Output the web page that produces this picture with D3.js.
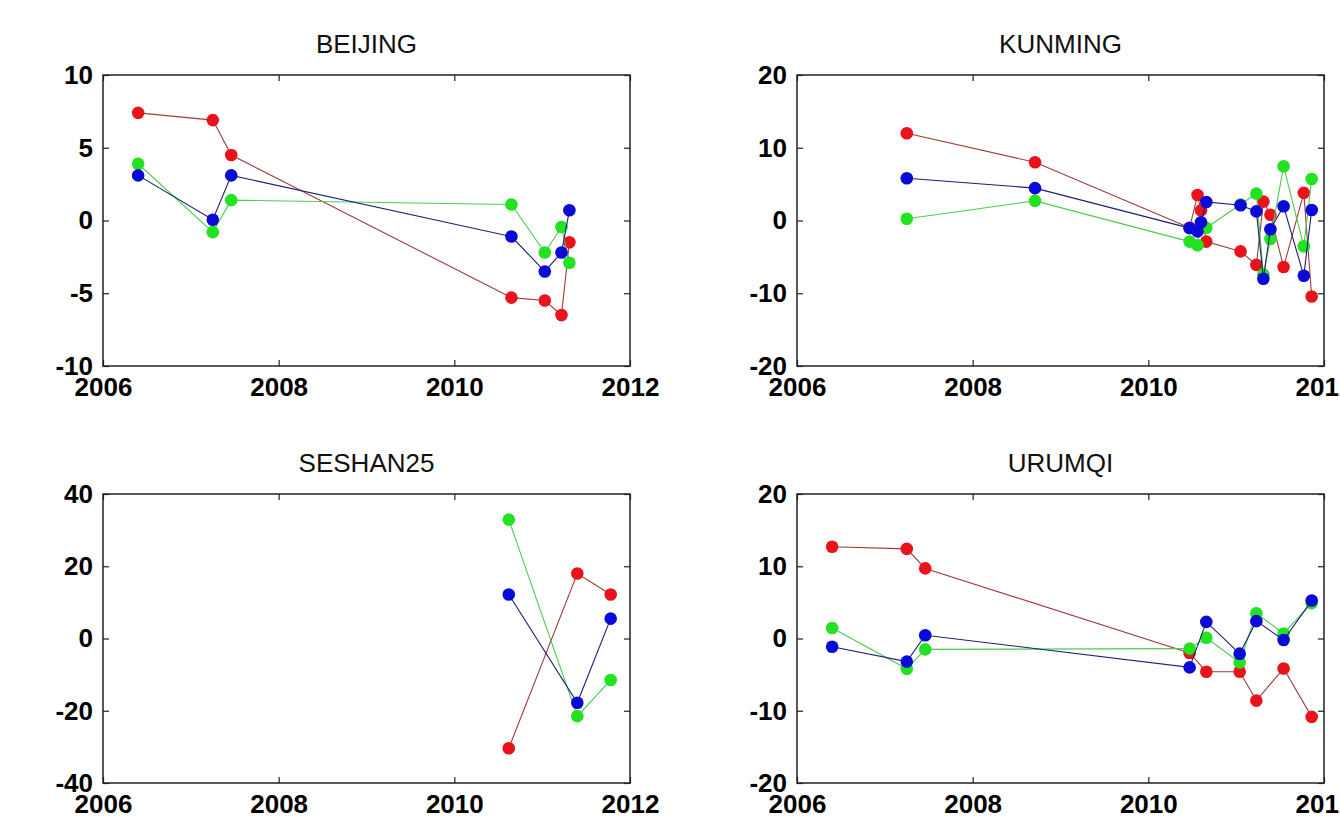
<!DOCTYPE html>
<html><head><meta charset="utf-8">
<script src="https://cdn.jsdelivr.net/npm/d3@7"></script>
<style>html,body{margin:0;padding:0;background:#fff;overflow:hidden}</style>
</head><body><svg id="c" width="1340" height="827"></svg>
<script>
// ---- data ----
const titles = ["BEIJING", "KUNMING", "SESHAN25", "URUMQI"];
const xTicks = [2006, 2008, 2010, 2012];

const bjYears = [2006.40, 2007.25, 2007.46, 2010.65, 2011.03, 2011.22, 2011.31];
const bjRed   = [7.4, 6.9, 4.5, -5.3, -5.5, -6.5, -1.5];
const bjGreen = [3.9, -0.8, 1.4, 1.1, -2.2, -0.45, -2.9];
const bjBlue  = [3.1, 0.05, 3.1, -1.1, -3.5, -2.2, 0.7];
const bjTicks = [-10, -5, 0, 5, 10];

const kmYears = [2007.25, 2008.71, 2010.47, 2010.56, 2010.60, 2010.66, 2011.05, 2011.23, 2011.31, 2011.39, 2011.54, 2011.77, 2011.86];
const kmRed   = [12.0, 8.0, -1.0, 3.5, 1.4, -2.9, -4.25, -6.1, 2.6, 0.8, -6.4, 3.8, -10.45];
const kmGreen = [0.25, 2.7, -2.9, -3.4, -0.6, -1.0, 2.2, 3.7, -7.4, -2.55, 7.45, -3.55, 5.7];
const kmBlue  = [5.8, 4.45, -1.05, -1.5, -0.25, 2.55, 2.1, 1.25, -8.0, -1.2, 1.95, -7.6, 1.45];
const kmTicks = [-20, -10, 0, 10, 20];

const ssYears = [2010.62, 2011.40, 2011.78];
const ssRed   = [-30.4, 18.0, 12.2];
const ssGreen = [32.9, -21.5, -11.5];
const ssBlue  = [12.2, -17.8, 5.5];
const ssTicks = [-40, -20, 0, 20, 40];

const urYears = [2006.40, 2007.25, 2007.46, 2010.47, 2010.66, 2011.04, 2011.23, 2011.54, 2011.86];
const urRed   = [12.7, 12.4, 9.7, -2.0, -4.6, -4.6, -8.6, -4.15, -10.85];
const urGreen = [1.45, -4.2, -1.5, -1.4, 0.1, -3.3, 3.5, 0.7, 4.9];
const urBlue  = [-1.15, -3.2, 0.45, -4.0, 2.3, -2.1, 2.4, -0.2, 5.25];
const urTicks = [-20, -10, 0, 10, 20];

// ---- assembly ----
const panels = [
  {title: titles[0], years: bjYears, series: [bjRed, bjGreen, bjBlue], yTicks: bjTicks},
  {title: titles[1], years: kmYears, series: [kmRed, kmGreen, kmBlue], yTicks: kmTicks},
  {title: titles[2], years: ssYears, series: [ssRed, ssGreen, ssBlue], yTicks: ssTicks},
  {title: titles[3], years: urYears, series: [urRed, urGreen, urBlue], yTicks: urTicks}
];
const boxes = [
  {left: 103, top: 75, w: 527, h: 291},
  {left: 797, top: 75, w: 527, h: 291},
  {left: 103, top: 494, w: 527, h: 289},
  {left: 797, top: 494, w: 527, h: 289}
];
const markerColors = ["#e8141a", "#22e222", "#0a0ad6"];
const lineColors = ["#a03c3c", "#4ccc4c", "#1a1f78"];

const svg = d3.select("#c");
svg.append("rect").attr("width", 1340).attr("height", 827).attr("fill", "#fff");

const FONT = "'Liberation Sans', Arial, sans-serif";
const fmt = d => String(d);

panels.forEach((p, i) => {
  const b = boxes[i];
  const x = d3.scaleLinear().domain([xTicks[0], xTicks[xTicks.length - 1]]).range([0, b.w]);
  const y = d3.scaleLinear().domain([p.yTicks[0], p.yTicks[p.yTicks.length - 1]]).range([b.h, 0]);
  const g = svg.append("g").attr("transform", `translate(${b.left},${b.top})`);

  g.append("text").attr("x", b.w / 2).attr("y", -22)
    .attr("text-anchor", "middle")
    .style("font-family", FONT).style("font-size", "26px").attr("fill", "#111")
    .text(p.title);

  const styleAxis = sel => {
    sel.select(".domain").remove();
    sel.selectAll(".tick line").attr("stroke", "#222").attr("stroke-width", 1.2);
    sel.selectAll(".tick text").style("font-family", FONT).style("font-size", "26px")
      .style("font-weight", "bold").attr("fill", "#000");
  };

  g.append("g").call(d3.axisLeft(y).tickValues(p.yTicks).tickSize(-6).tickPadding(10).tickFormat(fmt)).call(styleAxis);
  g.append("g").attr("transform", `translate(${b.w},0)`)
    .call(d3.axisRight(y).tickValues(p.yTicks).tickSize(-6).tickFormat("")).call(styleAxis);
  g.append("g").attr("transform", `translate(0,${b.h})`)
    .call(d3.axisBottom(x).tickValues(xTicks).tickSize(-6).tickPadding(12).tickFormat(fmt)).call(styleAxis);
  g.append("g")
    .call(d3.axisTop(x).tickValues(xTicks).tickSize(-6).tickFormat("")).call(styleAxis);

  g.append("rect").attr("width", b.w).attr("height", b.h)
    .attr("fill", "none").attr("stroke", "#222").attr("stroke-width", 1.5);

  const line = d3.line().x(d => x(d[0])).y(d => y(d[1]));
  p.series.forEach((vals, s) => {
    const pts = p.years.map((yr, k) => [yr, vals[k]]);
    g.append("path").datum(pts).attr("d", line)
      .attr("fill", "none").attr("stroke", lineColors[s]).attr("stroke-width", 1.1);
    g.selectAll(null).data(pts).enter().append("circle")
      .attr("cx", d => x(d[0])).attr("cy", d => y(d[1])).attr("r", 6.3)
      .attr("fill", markerColors[s]);
  });
});
</script>
</body></html>
